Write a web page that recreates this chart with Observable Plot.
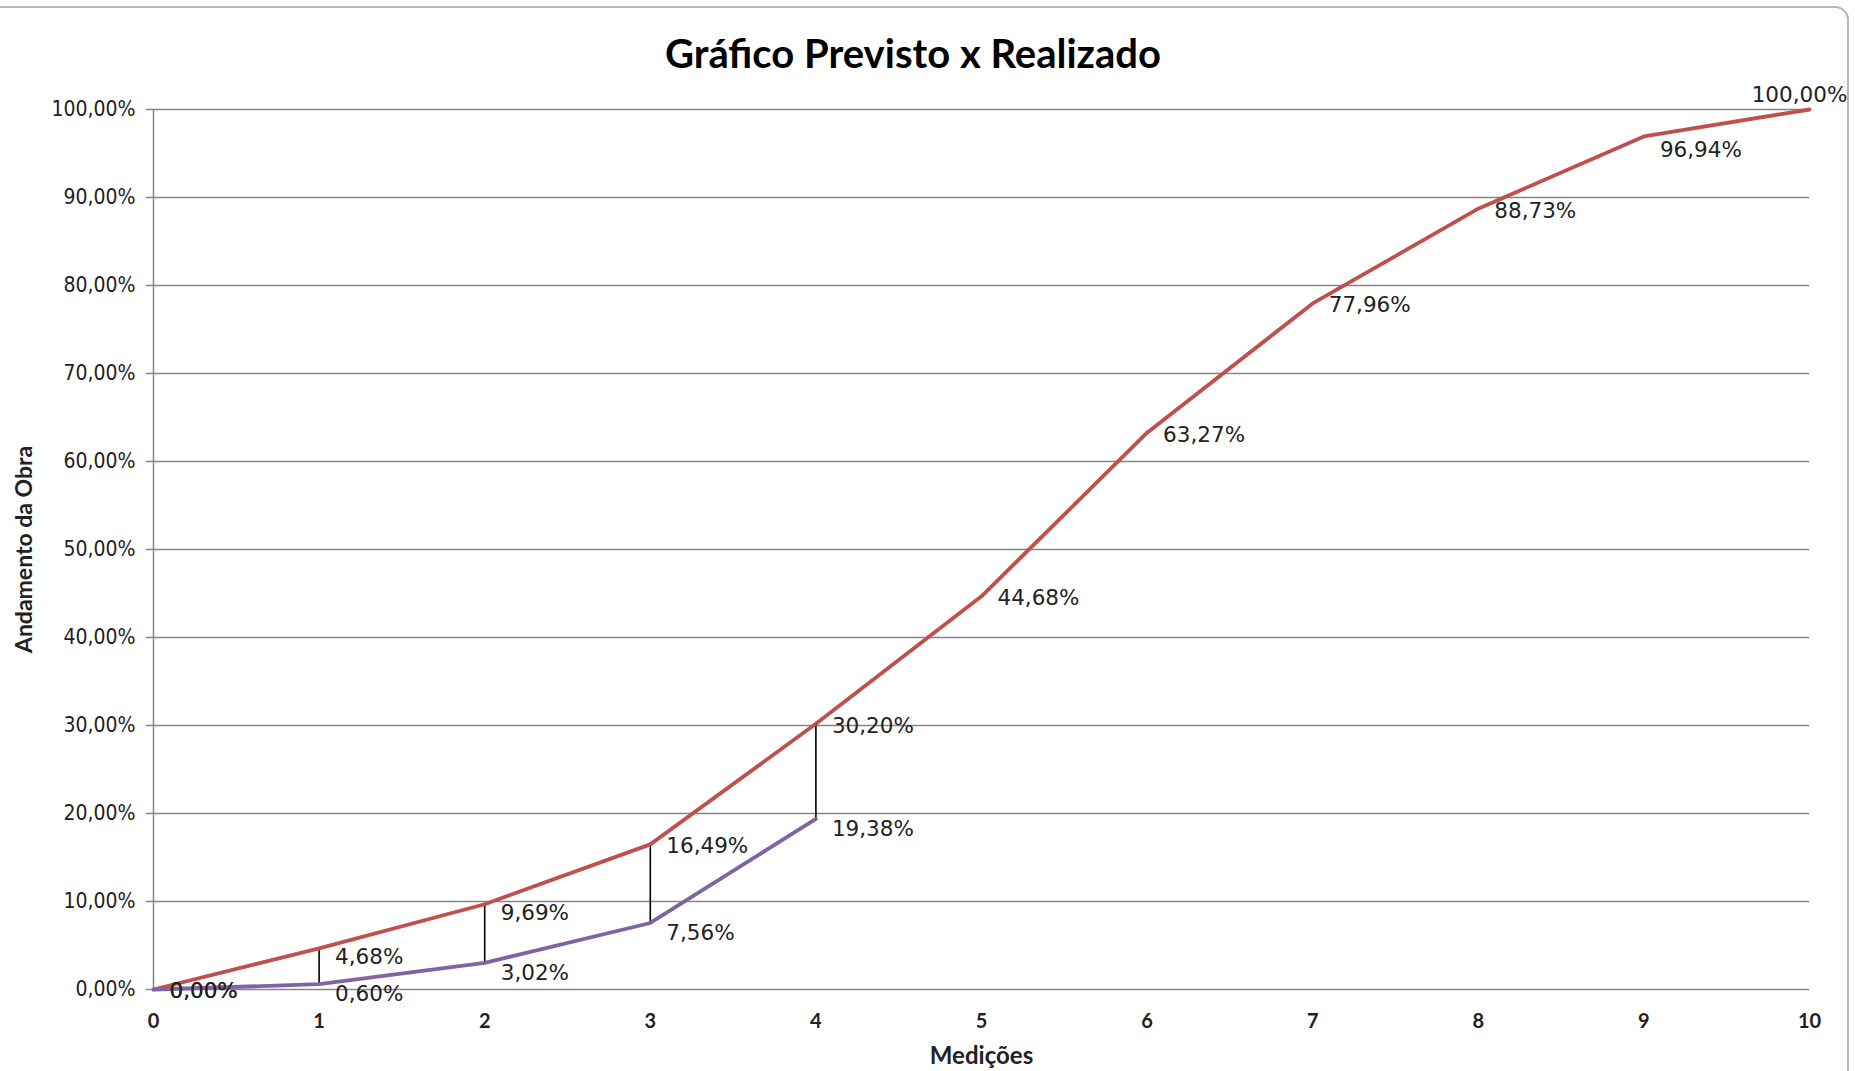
<!DOCTYPE html>
<html><head><meta charset="utf-8">
<script src="https://cdn.jsdelivr.net/npm/d3@7"></script>
<script src="https://cdn.jsdelivr.net/npm/@observablehq/plot@0.6"></script>
<style>
html,body{margin:0;padding:0;background:#fff;overflow:hidden;width:1855px;height:1071px;}
#frame{position:absolute;left:-10px;top:6px;width:1859px;height:1120px;box-sizing:border-box;border:2px solid #b8b8b8;border-top-right-radius:14px;}
#title{position:relative;height:80px;}
#title span{position:absolute;left:0;width:1826px;text-align:center;top:29px;line-height:46px;font:bold 40px Lato, sans-serif;color:#000;}
#chart{position:relative;}
#chart g[aria-label="y-axis tick label"] text{font-family:"DejaVu Sans Condensed","DejaVu Sans",sans-serif;font-size:21px;}
#chart g[aria-label="x-axis tick label"] text{font-family:Lato,sans-serif;font-weight:bold;font-size:20px;}
</style></head>
<body>
<div id="frame"></div>
<div id="title"><span>Gráfico Previsto x Realizado</span></div>
<div id="chart"></div>
<script>
const medicoes = [0, 1, 2, 3, 4, 5, 6, 7, 8, 9, 10];
const previsto = [0, 4.68, 9.69, 16.49, 30.20, 44.68, 63.27, 77.96, 88.73, 96.94, 100];
const realizado = [0, 0.60, 3.02, 7.56, 19.38];
const yTicks = [0, 10, 20, 30, 40, 50, 60, 70, 80, 90, 100];
const yTickLabels = ["0,00%", "10,00%", "20,00%", "30,00%", "40,00%", "50,00%", "60,00%", "70,00%", "80,00%", "90,00%", "100,00%"];
const xTickLabels = ["0", "1", "2", "3", "4", "5", "6", "7", "8", "9", "10"];

const fmt = v => v.toFixed(2).replace(".", ",") + "%";
const prevData = previsto.map((v, i) => ({x: medicoes[i], y: v / 100, i, label: fmt(v)}));
const realData = realizado.map((v, i) => ({x: medicoes[i], y: v / 100, i, label: fmt(v)}));
const links = realizado.map((v, i) => ({x: medicoes[i], lo: v / 100, hi: previsto[i] / 100})).filter(d => d.x > 0);
const yT = yTicks.map(v => v / 100);

const RED = "#C0504D", PURPLE = "#8064A2", GRID = "#868686", INK = "#222";
const labelFont = {fontFamily: "DejaVu Sans, sans-serif", fontSize: 21.5, fill: INK, textAnchor: "start", dx: 16};

const chart = Plot.plot({
  width: 1855, height: 991,
  marginTop: 29, marginBottom: 82, marginLeft: 153, marginRight: 46,
  style: {background: "transparent", overflow: "visible"},
  x: {domain: [0, 10]},
  y: {domain: [0, 1]},
  marks: [
    Plot.gridY(yT, {stroke: GRID, strokeOpacity: 1, strokeWidth: 1.5}),
    Plot.ruleX([0], {y1: 0, y2: 1, stroke: GRID, strokeWidth: 1.5}),
    Plot.axisY(yT, {tickSize: 7, tickPadding: 11, stroke: GRID, strokeWidth: 1.5, fill: INK,
      tickFormat: (d, i) => yTickLabels[i], label: null}),
    Plot.axisX(medicoes, {tickSize: 0, tickPadding: 24, fill: INK,
      tickFormat: (d, i) => xTickLabels[i], label: null}),
    Plot.ruleX(links, {x: "x", y1: "lo", y2: "hi", stroke: "#000", strokeWidth: 1.6}),
    Plot.line(prevData, {x: "x", y: "y", stroke: RED, strokeWidth: 3.8}),
    Plot.line(realData, {x: "x", y: "y", stroke: PURPLE, strokeWidth: 3.8}),
    // Previsto labels
    Plot.text(prevData.filter(d => d.i === 0 || (d.i >= 3 && d.i <= 8)), {x: "x", y: "y", text: "label", ...labelFont, dy: 2}),
    Plot.text(prevData.filter(d => d.i === 1 || d.i === 2), {x: "x", y: "y", text: "label", ...labelFont, dy: 9}),
    Plot.text(prevData.filter(d => d.i === 9), {x: "x", y: "y", text: "label", ...labelFont, dy: 14}),
    Plot.text(prevData.filter(d => d.i === 10), {x: "x", y: "y", text: "label", ...labelFont, textAnchor: "middle", dx: -10, dy: -14}),
    // Realizado labels
    Plot.text(realData.filter(d => d.i === 0), {x: "x", y: "y", text: "label", ...labelFont, dy: 2}),
    Plot.text(realData.filter(d => d.i > 0), {x: "x", y: "y", text: "label", ...labelFont, dy: 10}),
    // axis titles
    Plot.text(["Andamento da Obra"], {frameAnchor: "left", textAnchor: "middle", dx: -129, rotate: -90, fontFamily: "Lato, sans-serif", fontWeight: "bold", fontSize: 23, fill: INK}),
    Plot.text(["Medições"], {frameAnchor: "bottom", textAnchor: "middle", dy: 74, fontFamily: "Lato, sans-serif", fontWeight: "bold", fontSize: 24, fill: INK})
  ]
});
document.getElementById("chart").appendChild(chart);
</script>
</body></html>
